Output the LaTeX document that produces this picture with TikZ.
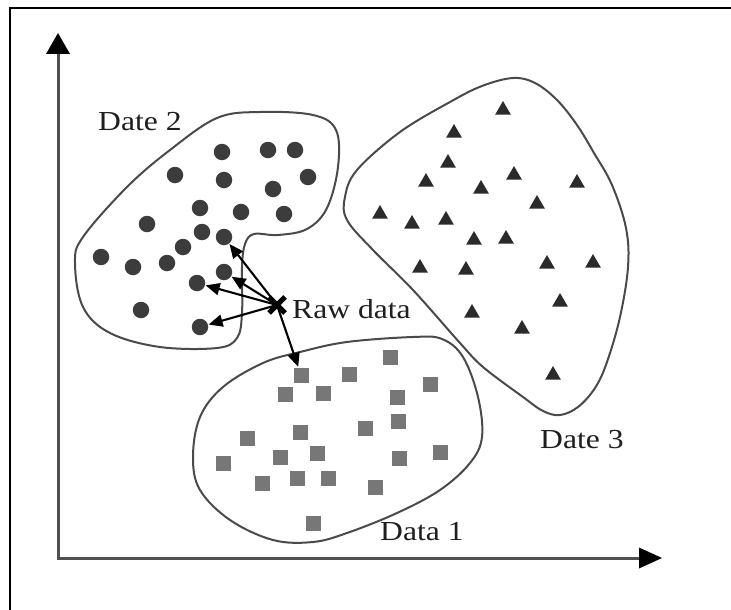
\documentclass[tikz,border=0pt]{standalone}
\usepackage{fontspec}
\usetikzlibrary{arrows.meta,shapes.geometric,shapes.misc}
\newfontfamily\lblfont[FakeStretch=1.15]{Liberation Serif}
\definecolor{dotgray}{HTML}{3C3C3C}
\definecolor{sqgray}{HTML}{777777}
\definecolor{trigray}{HTML}{2B2B2B}
\definecolor{edgegray}{HTML}{4A4A4A}
\definecolor{axisgray}{HTML}{505050}
\tikzset{
  dot/.style={circle, fill=dotgray, minimum size=16.5pt, inner sep=0pt},
  sqr/.style={rectangle, fill=sqgray, minimum size=15pt, inner sep=0pt},
  tri/.style={regular polygon, regular polygon sides=3, fill=trigray, minimum size=18pt, inner sep=0pt},
  region/.style={draw=edgegray, line width=2pt},
  lbl/.style={font=\lblfont\fontsize{27.5}{30}\selectfont, text=black!88, inner sep=0pt, anchor=base west},
  ray/.style={line width=2.1pt, -{Triangle[length=14pt,width=12pt]}, shorten >=0.5pt},
  axis/.style={draw=axisgray, line width=3pt,
    {Triangle[length=21pt,width=24pt,color=black,line width=0pt]}-{Triangle[length=23pt,width=21pt,color=black,line width=0pt]}},
}
\begin{document}
\begin{tikzpicture}[x=1pt,y=-1pt]
\useasboundingbox (0,0) rectangle (731,610);
\fill[white] (0,0) rectangle (731,610);

% outer frame
\coordinate (fa) at (10,610);
\coordinate (fb) at (10,8);
\coordinate (fc) at (731,8);
\draw[line width=2pt] (fa) -- (fb) -- (fc);

% axes
\coordinate (origin) at (58,558);
\coordinate (ytip) at (58,33);
\coordinate (xtip) at (662,558);
\draw[axis] (ytip) -- (origin) -- (xtip);

% cluster outlines
\draw[region] plot[smooth cycle, tension=0.6] coordinates {
  (217,118) (260,112) (313,115) (336,130) (338,167) (327,208) (307,229)
  (278,235) (254,234) (245,244) (242,267) (242,313) (237,338) (217,348)
  (160,347) (110,333) (83,307) (75,263) (83,237) (127,187) (170,150)};
\draw[region] plot[smooth cycle, tension=0.6] coordinates {
  (450,102) (482,86) (513,78) (535,83) (557,100) (577,125) (594,153)
  (612,185) (626,228) (628,267) (620,317) (607,362) (595,388) (578,407)
  (560,415) (543,411) (523,397) (483,367) (460,343) (413,290) (373,250)
  (347,220) (345,197) (357,170) (400,132)};
\draw[region] plot[smooth cycle, tension=0.6] coordinates {
  (300,352) (347,342) (413,337) (442,339) (463,357) (478,397) (482,437)
  (470,463) (440,490) (397,513) (347,533) (313,542) (273,540) (230,520)
  (200,490) (193,457) (200,417) (223,387) (263,363)};

% Date 2 points
\foreach \x/\y [count=\i] in {222/152, 268/150, 295/150, 175/175, 224/180,
    308/177, 273/189, 200/208, 241/212, 284/214, 147/224, 202/232, 224/237,
    183/247, 101/257, 133/267, 167/263, 224/272, 197/283, 141/310, 200/327}
  \node[dot] (c\i) at (\x,\y) {};

% Data 1 points
\foreach \x/\y [count=\i] in {390/357, 301/375, 349/374, 430/384, 285/394,
    323/393, 397/397, 398/421, 365/428, 300/432, 247/438, 317/453, 280/457,
    440/452, 399/458, 223/463, 297/478, 328/478, 262/483, 375/487, 313/523}
  \node[sqr] (s\i) at (\x,\y) {};

% Date 3 points
\foreach \x/\y [count=\i] in {503/110, 454/133, 448/163, 514/175, 426/182,
    481/189, 577/183, 537/204, 380/214, 412/224, 446/220, 474/240, 506/239,
    420/268, 466/270, 547/264, 593/263, 560/302, 472/313, 522/329, 553/375}
  \node[tri] (t\i) at (\x,\y) {};

% raw sample and its links
\node[cross out, draw=black, line width=5pt, minimum size=11pt, inner sep=0pt] (raw) at (277,305) {};
\draw[ray] (raw.center) -- (c13);
\draw[ray] (raw.center) -- (c18);
\draw[ray] (raw.center) -- (c19);
\draw[ray] (raw.center) -- (c21);
\draw[ray] (raw.center) -- (s2);

% labels
\node[lbl] (lraw) at (292,318) {Raw data};
\node[lbl] (l2) at (98,130) {Date 2};
\node[lbl] (l3) at (540,448) {Date 3};
\node[lbl] (l1) at (380,540) {Data 1};
\end{tikzpicture}
\end{document}
